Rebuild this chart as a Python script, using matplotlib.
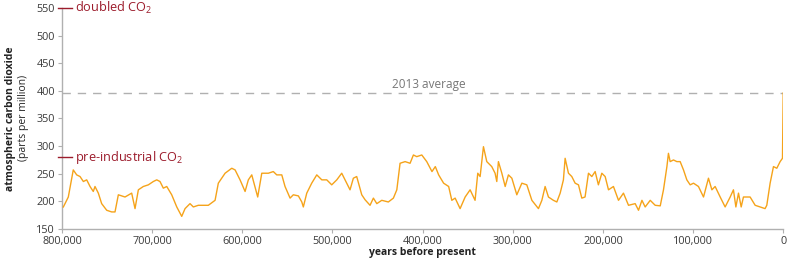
import matplotlib
matplotlib.use('Agg')
import matplotlib.pyplot as plt
import matplotlib.transforms as mtransforms
import numpy as np

plt.rcParams['font.family'] = ['Open Sans', 'DejaVu Sans']
plt.rcParams['mathtext.fontset'] = 'custom'
plt.rcParams['mathtext.rm'] = 'Open Sans'

# === Data (thousands of years before present, ppm) ===
kyr_bp = [
    798.5, 793, 787.5, 783.7, 780, 776.3, 772.6, 768.9, 765.3, 763.4, 759.7, 756,
    750.4, 744.9, 741.2, 737.5, 730.1, 722.7, 719, 715.3, 709.8, 704.2, 698.7, 694.9,
    691.3, 687.6, 683.8, 678.3, 672.7, 667.2, 663.5, 658,
    654.3, 648.8, 637.7, 630.2, 626.6, 619.1, 611.7, 608, 602.5, 596.9, 593.3, 589.5,
    582.9, 578.4, 571.1, 565.6, 561.8, 556.2, 552.6, 547, 543.4, 537.8, 534, 532.3,
    528.5, 523, 517.4, 511.8, 506.3, 500.8, 495.2, 489.7, 486, 480.5, 476.8, 473.1,
    467.5, 463.8, 458.3, 454.6, 450.8, 445.3, 438, 432.4, 428.6, 425, 419.4, 413.9,
    410.2, 406.5, 400.9, 395.4, 389.6, 385.9, 382.2, 376.7, 371.1, 367.6, 363.9, 358.4,
    352.8, 347.3, 341.8, 338.8, 336.2, 332.5, 328.8, 323.3, 319.6, 317.7, 315.9, 312.1,
    308.4, 304.8, 301, 295.5, 289.9, 284.4, 278.8, 271.5, 267.7, 264.1, 260.4, 254.9,
    251.1, 247.4, 243.8, 241.9, 238.2, 234.5, 230.8, 227.1, 223.4, 219.8, 216, 212.3,
    208.6, 205, 201.2, 197.5, 193.8, 188.3, 182.7, 177.2, 171.6, 164.2, 160.5, 156.7,
    153.1, 147.5, 142, 136.4, 132.8, 129, 127.3, 125.4, 121.7, 118, 114.3, 110.6,
    106.9, 103.2, 99.5, 94, 88.4, 82.9, 79.1, 75.5, 69.9, 64.4, 58.8, 55.2, 52.5,
    49.6, 46.6, 44.1, 36.7, 31.1, 25.6, 20.1, 18.2, 14.5, 10.8, 7.1, 3.4, 0.8, 0,
]
co2_ppm = [
    190, 208, 257, 248, 245, 236, 239, 227, 218, 227, 215, 196,
    184, 181, 181, 212, 208, 215, 187, 221, 227, 230, 236, 239,
    236, 224, 227, 212, 190, 173, 187, 196,
    190, 193, 193, 202, 233, 251, 260, 257, 239, 218, 239, 248,
    208, 251, 251, 254, 248, 248, 227, 206, 212, 210, 199, 190,
    215, 233, 248, 239, 239, 230, 239, 251, 239, 221, 242, 245,
    212, 203, 193, 206, 196, 202, 199, 206, 221, 269, 272, 269,
    284, 281, 284, 272, 254, 263, 248, 233, 227, 202, 206, 187,
    208, 221, 202, 251, 245, 299, 272, 263, 251, 236, 272, 251,
    227, 248, 242, 212, 233, 230, 202, 187, 202, 227, 208, 202,
    199, 215, 239, 278, 251, 245, 233, 230, 206, 208, 251, 245,
    254, 230, 251, 245, 221, 227, 202, 215, 193, 196, 184, 202,
    190, 202, 193, 192, 221, 263, 287, 272, 275, 272, 272, 257,
    239, 230, 233, 227, 208, 242, 221, 227, 208, 190, 208, 221, 190,
    215, 190, 208, 208, 193, 190, 187, 193, 233, 263, 260, 272, 278, 396,
]
avg_2013 = 396
doubled_co2 = 550
preindustrial_co2 = 280
y_ticks = [150, 200, 250, 300, 350, 400, 450, 500, 550]
x_ticks = [800000, 700000, 600000, 500000, 400000, 300000, 200000, 100000, 0]

years = np.array(kyr_bp) * 1000

LINE = "#f5a31a"
RED = "#9c1c2c"
GRAY = "#b0b0b0"
TXT = "#3a3a3a"

fig = plt.figure(figsize=(8, 2.63), dpi=100)
ax = fig.add_axes([0.0775, 0.129, 0.9015, 0.841])

ax.plot(years, co2_ppm, color=LINE, lw=1.0, zorder=3)
ax.axhline(avg_2013, color=GRAY, lw=1.0, dashes=(6, 5), zorder=2)
ax.text(393000, avg_2013 + 3, "2013 average", ha='center', va='bottom',
        fontsize=8.5, color="#777777")

ax.set_xlim(800000, 0)
ax.set_ylim(150, 550)
ax.set_xticks(x_ticks)
ax.set_xticklabels([f"{v:,}" for v in x_ticks])
ax.set_yticks(y_ticks)

for s in ("top", "right"):
    ax.spines[s].set_visible(False)
for s in ("left", "bottom"):
    ax.spines[s].set_color(GRAY)
    ax.spines[s].set_linewidth(1.0)
ax.tick_params(axis='both', colors=GRAY, labelcolor=TXT, labelsize=7.8,
               length=3, width=0.8, pad=2)

# red reference markers at the left edge
trans = mtransforms.blended_transform_factory(ax.transAxes, ax.transData)
for val, label in [(doubled_co2, "doubled CO$_\\mathregular{2}$"),
                   (preindustrial_co2, "pre-industrial CO$_\\mathregular{2}$")]:
    ax.plot([-0.006, 0.014], [val, val], transform=trans, color=RED, lw=1.0,
            clip_on=False, zorder=4)
    ax.text(0.0185, val, label, transform=trans, color=RED, fontsize=9.2,
            ha='left', va='center', zorder=4)

fig.text(0.013, 0.55, "atmospheric carbon dioxide", rotation=90, ha='center',
         va='center', fontsize=7.5, fontweight='bold', color="#222222")
fig.text(0.03, 0.55, "(parts per million)", rotation=90, ha='center',
         va='center', fontsize=7.5, color="#222222")
ax.set_xlabel("years before present", fontsize=7.5, fontweight='bold',
              color="#222222", labelpad=0)

fig.savefig("out.png", dpi=100, facecolor="white")
